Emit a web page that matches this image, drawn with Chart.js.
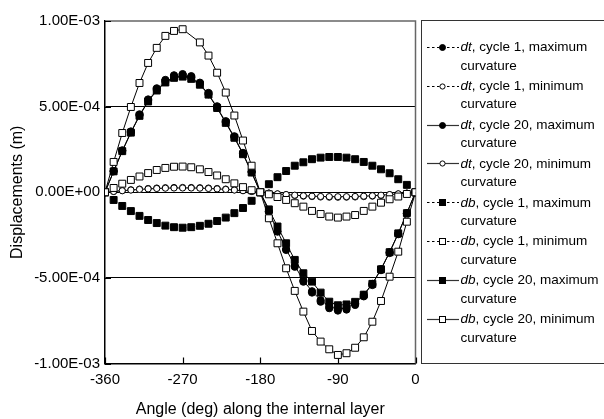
<!DOCTYPE html>
<html lang="en">
<head>
<meta charset="UTF-8">
<title>Displacements along the internal layer</title>
<script src="https://cdn.jsdelivr.net/npm/chart.js"></script>
<style>
  body { margin: 0; background: #fff; font-family: "Liberation Sans", Arial, sans-serif; }
  .wrap { position: relative; width: 604px; height: 419px; overflow: hidden; }
  #legend {
    position: absolute; left: 421px; top: 20px; width: 200px; height: 344px;
    border: 1.5px solid #333; box-sizing: border-box; padding-top: 17px;
  }
  .item { position: relative; height: 38.9px; padding-left: 38.5px; font-size: 13.5px; line-height: 18.5px; color: #000; }
  .item svg { position: absolute; left: 4.5px; top: 3.75px; }
</style>
</head>
<body>
<div class="wrap">
  <canvas id="chart" width="604" height="419"></canvas>
  <div id="legend"></div>
</div>

<script>
// angle along the layer, one reading every 10 degrees
const angles = [-360, -350, -340, -330, -320, -310, -300, -290, -280, -270, -260, -250, -240, -230, -220, -210, -200, -190, -180,
  -170, -160, -150, -140, -130, -120, -110, -100, -90, -80, -70, -60, -50, -40, -30, -20, -10, 0];

const xTicks = [-360, -270, -180, -90, 0];
const yTicks = [-1e-3, -5e-4, 0, 5e-4, 1e-3];
const yTickLabels = ['-1.00E-03', '-5.00E-04', '0.00E+00', '5.00E-04', '1.00E-03'];

// displacements (m)
const dtC1Max = [0, 1.24e-4, 2.45e-4, 3.55e-4, 4.55e-4, 5.42e-4, 6.07e-4, 6.56e-4, 6.83e-4, 6.90e-4, 6.78e-4, 6.40e-4, 5.80e-4, 5.02e-4, 4.15e-4, 3.27e-4, 2.30e-4, 1.20e-4, 0,
  -1.15e-4, -2.30e-4, -3.37e-4, -4.35e-4, -5.22e-4, -5.86e-4, -6.39e-4, -6.77e-4, -6.91e-4, -6.85e-4, -6.58e-4, -6.08e-4, -5.42e-4, -4.55e-4, -3.55e-4, -2.45e-4, -1.24e-4, 0];
const dtC1Min = [0, 0.50e-5, 0.99e-5, 1.44e-5, 1.85e-5, 2.20e-5, 2.46e-5, 2.66e-5, 2.77e-5, 2.80e-5, 2.77e-5, 2.66e-5, 2.46e-5, 2.20e-5, 1.85e-5, 1.44e-5, 0.99e-5, 0.50e-5, 0,
  -0.52e-5, -1.03e-5, -1.49e-5, -1.91e-5, -2.28e-5, -2.55e-5, -2.76e-5, -2.87e-5, -2.90e-5, -2.87e-5, -2.76e-5, -2.55e-5, -2.28e-5, -1.91e-5, -1.49e-5, -1.03e-5, -0.52e-5, 0];
const dtC20Max = [0, 1.22e-4, 2.41e-4, 3.50e-4, 4.49e-4, 5.34e-4, 5.98e-4, 6.46e-4, 6.73e-4, 6.80e-4, 6.70e-4, 6.32e-4, 5.72e-4, 4.95e-4, 4.09e-4, 3.22e-4, 2.26e-4, 1.18e-4, 0,
  -1.13e-4, -2.27e-4, -3.32e-4, -4.29e-4, -5.15e-4, -5.78e-4, -6.30e-4, -6.67e-4, -6.82e-4, -6.76e-4, -6.50e-4, -6.00e-4, -5.35e-4, -4.49e-4, -3.50e-4, -2.42e-4, -1.22e-4, 0];
const dtC20Min = [0, 0.45e-5, 0.89e-5, 1.29e-5, 1.65e-5, 1.96e-5, 2.20e-5, 2.38e-5, 2.48e-5, 2.50e-5, 2.48e-5, 2.38e-5, 2.20e-5, 1.96e-5, 1.65e-5, 1.29e-5, 0.89e-5, 0.45e-5, 0,
  -0.47e-5, -0.92e-5, -1.34e-5, -1.72e-5, -2.04e-5, -2.29e-5, -2.47e-5, -2.57e-5, -2.60e-5, -2.57e-5, -2.47e-5, -2.29e-5, -2.04e-5, -1.72e-5, -1.34e-5, -0.92e-5, -0.47e-5, 0];
const dbC1Max = [0, -0.45e-4, -0.80e-4, -1.10e-4, -1.38e-4, -1.62e-4, -1.80e-4, -1.95e-4, -2.04e-4, -2.07e-4, -2.04e-4, -1.96e-4, -1.84e-4, -1.68e-4, -1.48e-4, -1.22e-4, -0.92e-4, -0.50e-4, 0,
  0.47e-4, 0.88e-4, 1.24e-4, 1.55e-4, 1.75e-4, 1.93e-4, 2.02e-4, 2.06e-4, 2.06e-4, 2.02e-4, 1.93e-4, 1.77e-4, 1.55e-4, 1.34e-4, 1.11e-4, 0.76e-4, 0.43e-4, 0];
const dbC1Min = [0, 0.25e-4, 0.50e-4, 0.72e-4, 0.92e-4, 1.12e-4, 1.30e-4, 1.42e-4, 1.49e-4, 1.50e-4, 1.46e-4, 1.34e-4, 1.18e-4, 0.98e-4, 0.76e-4, 0.52e-4, 0.30e-4, 0.12e-4, 0,
  -0.12e-4, -0.28e-4, -0.45e-4, -0.64e-4, -0.84e-4, -1.09e-4, -1.27e-4, -1.42e-4, -1.48e-4, -1.42e-4, -1.33e-4, -1.09e-4, -0.84e-4, -0.61e-4, -0.41e-4, -0.25e-4, -0.10e-4, 0];
const dbC20Max = [0, 1.22e-4, 2.40e-4, 3.48e-4, 4.46e-4, 5.30e-4, 5.94e-4, 6.41e-4, 6.68e-4, 6.75e-4, 6.62e-4, 6.28e-4, 5.70e-4, 4.92e-4, 4.05e-4, 3.18e-4, 2.22e-4, 1.15e-4, 0,
  -1.00e-4, -2.00e-4, -2.98e-4, -3.95e-4, -4.73e-4, -5.22e-4, -5.86e-4, -6.39e-4, -6.60e-4, -6.55e-4, -6.40e-4, -5.98e-4, -5.35e-4, -4.50e-4, -3.50e-4, -2.40e-4, -1.22e-4, 0];
const dbC20Min = [0, 1.77e-4, 3.46e-4, 4.98e-4, 6.38e-4, 7.55e-4, 8.43e-4, 9.13e-4, 9.42e-4, 9.52e-4, null, 8.75e-4, 7.98e-4, 6.98e-4, 5.82e-4, 4.48e-4, 3.02e-4, 1.55e-4, 0,
  -1.52e-4, -2.98e-4, -4.44e-4, -5.76e-4, -6.97e-4, -8.10e-4, -8.72e-4, -9.17e-4, -9.50e-4, -9.40e-4, -9.08e-4, -8.47e-4, -7.56e-4, -6.35e-4, -4.93e-4, -3.47e-4, -1.72e-4, 0];

const seriesValues = [dtC1Max, dtC1Min, dtC20Max, dtC20Min, dbC1Max, dbC1Min, dbC20Max, dbC20Min];
const seriesLayer = ['dt', 'dt', 'dt', 'dt', 'db', 'db', 'db', 'db'];
const seriesCycle = [1, 1, 20, 20, 1, 1, 20, 20];
const seriesCurv = ['maximum', 'minimum', 'maximum', 'minimum', 'maximum', 'minimum', 'maximum', 'minimum'];

// marker/line look per series
const looks = [
  { shape: 'circle', filled: true,  dashed: true },
  { shape: 'circle', filled: false, dashed: true },
  { shape: 'circle', filled: true,  dashed: false },
  { shape: 'circle', filled: false, dashed: false },
  { shape: 'rect',   filled: true,  dashed: true },
  { shape: 'rect',   filled: false, dashed: true },
  { shape: 'rect',   filled: true,  dashed: false },
  { shape: 'rect',   filled: false, dashed: false }
];

function pointRadius(look) {
  if (look.shape === 'rect') return 4.9;
  return look.filled ? 3.6 : 3.1;
}

// frame on top/right plus the inward tick marks
const axisFrame = {
  id: 'axisFrame',
  beforeDatasetsDraw(chart) {
    const { ctx, chartArea: a, scales: { x, y } } = chart;
    ctx.save();
    ctx.strokeStyle = '#666';
    ctx.lineWidth = 1.5;
    ctx.beginPath();
    ctx.moveTo(a.left, a.top);
    ctx.lineTo(a.right, a.top);
    ctx.lineTo(a.right, a.bottom);
    ctx.stroke();
    ctx.strokeStyle = '#000';
    ctx.lineWidth = 1.2;
    ctx.beginPath();
    xTicks.forEach(v => {
      const px = Math.round(x.getPixelForValue(v)) + 0.5;
      ctx.moveTo(px, a.bottom);
      ctx.lineTo(px, a.bottom - 6);
    });
    yTicks.forEach(v => {
      const py = Math.round(y.getPixelForValue(v)) + 0.5;
      ctx.moveTo(a.left, py);
      ctx.lineTo(a.left + 6, py);
    });
    ctx.stroke();
    ctx.restore();
  }
};

const datasets = seriesValues.map((vals, i) => {
  const look = looks[i];
  return {
    label: `${seriesLayer[i]}, cycle ${seriesCycle[i]}, ${seriesCurv[i]} curvature`,
    data: vals.map((v, k) => ({ x: angles[k], y: v })),
    borderColor: look.dashed ? 'rgba(0,0,0,0.35)' : '#000',
    borderWidth: look.dashed ? 0.5 : 1,
    borderDash: look.dashed ? [1.5, 3] : [],
    pointStyle: look.shape,
    pointRadius: pointRadius(look),
    pointBackgroundColor: look.filled ? '#000' : '#fff',
    pointBorderColor: '#000',
    pointBorderWidth: 1,
    spanGaps: true,
    tension: 0,
    order: seriesValues.length - i
  };
});

const chart = new Chart(document.getElementById('chart'), {
  type: 'line',
  data: { datasets },
  options: {
    responsive: false,
    animation: false,
    devicePixelRatio: 1,
    layout: { padding: { top: 21, right: 188.5, left: 0, bottom: 0 } },
    plugins: { legend: { display: false }, tooltip: { enabled: false } },
    scales: {
      x: {
        type: 'linear',
        min: -360,
        max: 0,
        afterBuildTicks: s => { s.ticks = xTicks.map(v => ({ value: v })); },
        afterFit: s => { s.height = 55.5; },
        grid: { display: false, drawTicks: false },
        border: { display: true, color: '#000', width: 1.5 },
        ticks: { color: '#000', padding: 7, font: { family: 'Liberation Sans', size: 15 }, maxRotation: 0 },
        title: { display: true, text: 'Angle (deg) along the internal layer', color: '#000',
          font: { family: 'Liberation Sans', size: 16 }, padding: { top: 0, bottom: 0 } }
      },
      y: {
        type: 'linear',
        min: -1e-3,
        max: 1e-3,
        afterBuildTicks: s => { s.ticks = yTicks.map(v => ({ value: v })); },
        afterFit: s => { s.width = 105; },
        grid: {
          drawTicks: false,
          color: c => (c.index === yTicks.length - 1 ? 'rgba(0,0,0,0)' : '#000'),
          lineWidth: 1
        },
        border: { display: true, color: '#000', width: 1.5 },
        ticks: { color: '#000', padding: 5, font: { family: 'Liberation Sans', size: 15 },
          callback: (v, i) => yTickLabels[i] },
        title: { display: true, text: 'Displacements (m)', color: '#000',
          font: { family: 'Liberation Sans', size: 16 }, padding: { top: 8, bottom: 0 } }
      }
    }
  },
  plugins: [axisFrame]
});

// legend box built from the same series lists
function symbolSvg(look) {
  const fill = look.filled ? '#000' : '#fff';
  const line = look.dashed
    ? '<line x1="0" y1="5.5" x2="32" y2="5.5" stroke="#000" stroke-width="1" stroke-dasharray="2.5,2.5"/>'
    : '<line x1="0" y1="5.5" x2="32" y2="5.5" stroke="#333" stroke-width="1.2"/>';
  const mark = look.shape === 'circle'
    ? `<circle cx="15.5" cy="5.5" r="${look.filled ? 3 : 2.6}" fill="${fill}" stroke="#000" stroke-width="1"/>`
    : `<rect x="12.5" y="2.5" width="6" height="6" fill="${fill}" stroke="#000" stroke-width="1"/>`;
  return `<svg width="32" height="11" viewBox="0 0 32 11">${line}${mark}</svg>`;
}

document.getElementById('legend').innerHTML = seriesValues.map((_, i) =>
  `<div class="item">${symbolSvg(looks[i])}<i>${seriesLayer[i]}</i>, cycle ${seriesCycle[i]}, ${seriesCurv[i]}<br>curvature</div>`
).join('');
</script>
</body>
</html>
